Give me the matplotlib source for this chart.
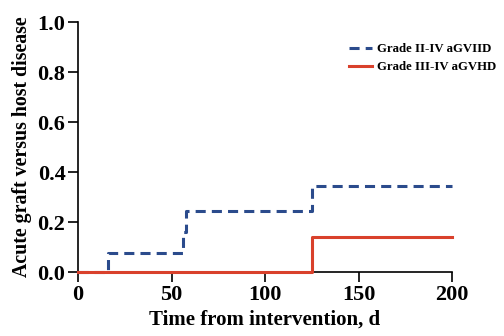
import matplotlib
matplotlib.use("Agg")
import matplotlib.pyplot as plt

# step data (days, cumulative incidence)
grade2_days = [0, 16, 56, 58, 125, 200]
grade2_vals = [0.0, 0.077, 0.16, 0.245, 0.343, 0.343]
grade3_days = [0, 125, 200]
grade3_vals = [0.0, 0.142, 0.142]

x_ticks = [0, 50, 100, 150, 200]
y_ticks = [0.0, 0.2, 0.4, 0.6, 0.8, 1.0]

plt.rcParams['font.family'] = ['Liberation Serif', 'DejaVu Serif']
plt.rcParams['font.weight'] = 'bold'

fig = plt.figure(figsize=(5.04, 3.36), dpi=100)
ax = fig.add_axes([78 / 504, 64 / 336, (452 - 78) / 504, (272 - 22) / 336])

ax.step(grade2_days, grade2_vals, where='post', color='#2b4b8c', linestyle=(0, (3.3, 2.0)),
        linewidth=2.2, label='Grade II-IV aGVIID', clip_on=False, zorder=3)
ax.step(grade3_days, grade3_vals, where='post', color='#d9412c', linewidth=2.2,
        label='Grade III-IV aGVHD', clip_on=False, zorder=4)

ax.set_xlim(0, 200)
ax.set_ylim(0, 1.0)
ax.set_xticks(x_ticks)
ax.set_yticks(y_ticks)
ax.set_xticklabels([str(t) for t in x_ticks], fontsize=16, fontweight='bold')
ax.set_yticklabels([f"{t:.1f}" for t in y_ticks], fontsize=16, fontweight='bold')

for s in ['top', 'right']:
    ax.spines[s].set_visible(False)
for s in ['left', 'bottom']:
    ax.spines[s].set_linewidth(1.2)
ax.tick_params(width=1.2, length=7, pad=2)

ax.set_xlabel("Time from intervention, d", fontsize=15, fontweight='bold', labelpad=4)
ax.set_ylabel("Acute graft versus host disease", fontsize=14.3, fontweight='bold', labelpad=4)

ax.legend(loc='upper left', bbox_to_anchor=(0.71, 0.935), frameon=False, fontsize=9.2,
          handlelength=1.8, handletextpad=0.4, labelspacing=0.45, borderaxespad=0)

fig.savefig("out.png", dpi=100)
